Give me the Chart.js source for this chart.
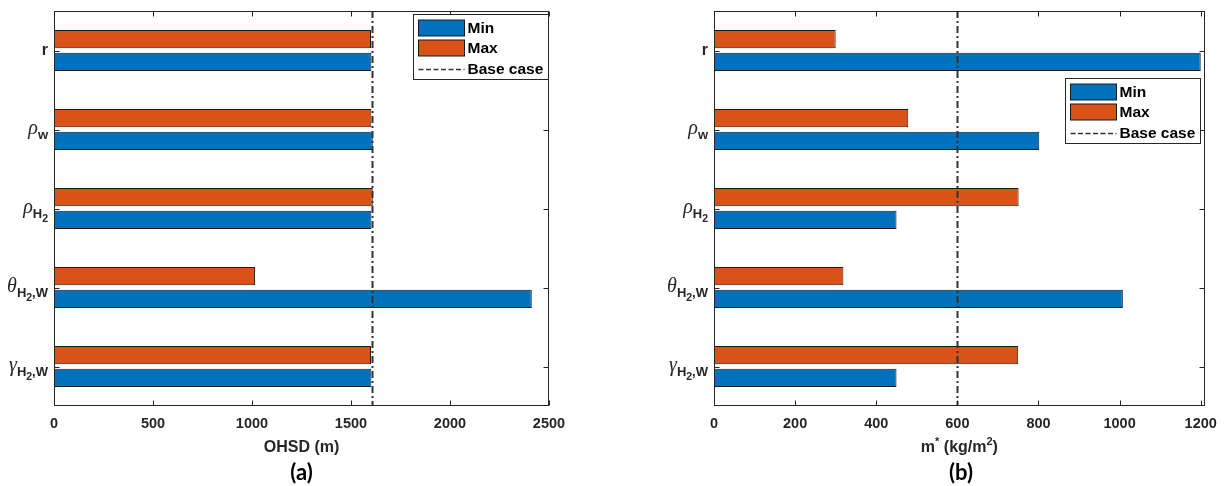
<!DOCTYPE html>
<html>
<head>
<meta charset="utf-8">
<script src="https://cdn.jsdelivr.net/npm/chart.js@4.4.1/dist/chart.umd.min.js"></script>
<style>
  html, body { margin: 0; padding: 0; background: #ffffff; }
  #wrap { position: relative; width: 1226px; height: 486px; overflow: hidden; }
  canvas { position: absolute; top: 0; }
  #panelA { left: 0; }
  #panelB { left: 613px; }
</style>
</head>
<body>
<div id="wrap">
  <canvas id="panelA" width="613" height="486"></canvas>
  <canvas id="panelB" width="613" height="486"></canvas>
</div>
<script>
// Sensitivity parameters, top to bottom (TeX-style notation)
const categories = ['r', '\\rho_w', '\\rho_{H_2}', '\\theta_{H_2,W}', '\\gamma_{H_2,W}'];
const seriesNames = ['Min', 'Max', 'Base case'];

// (a) overhead hydrogen storage depth
const ohsdMin = [1603, 1610, 1603, 2413, 1603];
const ohsdMax = [1601, 1603, 1610, 1015, 1601];
const ohsdBase = 1605;
const ohsdTicks = [0, 500, 1000, 1500, 2000, 2500];

// (b) critical mass per area
const massMin = [1200, 802, 450, 1008, 450];
const massMax = [300, 479, 751, 319, 750];
const massBase = 600;
const massTicks = [0, 200, 400, 600, 800, 1000, 1200];

const BLUE = '#0072BD';
const ORANGE = '#D95319';
const AXIS = '#262626';
const BASE_COLOR = '#333333';
const SANS = '"Liberation Sans", Arial, sans-serif';
const SERIF = '"Liberation Serif", "DejaVu Serif", serif';

const GREEK = { rho: 'ρ', theta: 'θ', gamma: 'γ' };

// Minimal TeX-like parser: greek commands, _ subscripts and ^ superscripts
function parseTex(src, st) {
  const runs = [];
  (function walk(s, depth, dy) {
    let i = 0;
    while (i < s.length) {
      const c = s[i];
      if (c === '\\') {
        let j = i + 1;
        while (j < s.length && /[a-zA-Z]/.test(s[j])) j++;
        runs.push({ text: GREEK[s.slice(i + 1, j)] || '', greek: true, depth, dy });
        i = j;
      } else if (c === '_' || c === '^') {
        let grp, next;
        if (s[i + 1] === '{') {
          let k = i + 2, lvl = 1;
          while (k < s.length && lvl) {
            if (s[k] === '{') lvl++;
            else if (s[k] === '}') lvl--;
            k++;
          }
          grp = s.slice(i + 2, k - 1);
          next = k;
        } else {
          grp = s[i + 1];
          next = i + 2;
        }
        const d = Math.min(depth, 1);
        const shift = c === '_' ? st.sub[d] : -st.sup[d];
        walk(grp, depth + 1, dy + shift);
        i = next;
      } else {
        const last = runs[runs.length - 1];
        if (last && !last.greek && last.depth === depth && last.dy === dy) last.text += c;
        else runs.push({ text: c, greek: false, depth, dy });
        i++;
      }
    }
  })(src, 0, 0);
  return runs;
}

function runFont(r, st) {
  const sz = st.sizes[Math.min(r.depth, st.sizes.length - 1)];
  if (r.greek) return `italic ${r.depth ? sz : st.greekSize}px ${SERIF}`;
  return `${st.weight} ${sz}px ${SANS}`;
}

function drawTex(ctx, src, x, y, align, st) {
  const runs = parseTex(src, st);
  let w = 0;
  runs.forEach(r => { ctx.font = runFont(r, st); r.w = ctx.measureText(r.text).width; w += r.w; });
  let cx = align === 'right' ? x - w : align === 'center' ? x - w / 2 : x;
  ctx.textAlign = 'left';
  ctx.textBaseline = 'alphabetic';
  runs.forEach(r => { ctx.font = runFont(r, st); ctx.fillText(r.text, cx, y + r.dy); cx += r.w; });
}

const labelStyle = { sizes: [16, 13, 10.5], greekSize: 20, sub: [5, 4], sup: [7, 5], weight: 'bold' };
const titleStyle = { sizes: [16, 11, 9], greekSize: 17, sub: [5, 4], sup: [7, 5], weight: 'bold' };

// Dash-dot base-case reference line, placed with the value scale
const baseLinePlugin = {
  id: 'baseLine',
  afterDatasetsDraw(chart, args, opts) {
    const { ctx, chartArea: a } = chart;
    const px = Math.round(chart.scales.x.getPixelForValue(opts.value)) + 0.5;
    ctx.save();
    ctx.strokeStyle = opts.color;
    ctx.lineWidth = opts.width;
    ctx.setLineDash(opts.dash);
    ctx.beginPath();
    ctx.moveTo(px, a.top);
    ctx.lineTo(px, a.bottom);
    ctx.stroke();
    ctx.restore();
  }
};

// Axes box, inward tick marks, category labels and axis title
const framePlugin = {
  id: 'frame',
  afterDatasetsDraw(chart, args, opts) {
    const { ctx, chartArea: a } = chart;
    const xs = chart.scales.x, ys = chart.scales.y;
    const L = Math.round(a.left) + 0.5, R = Math.round(a.right) - 0.5;
    const T = Math.round(a.top) + 0.5, B = Math.round(a.bottom) - 0.5;
    const tl = 5;
    ctx.save();
    ctx.strokeStyle = AXIS;
    ctx.lineWidth = 1;
    ctx.beginPath();
    xs.ticks.forEach(t => {
      const px = Math.round(xs.getPixelForValue(t.value)) + 0.5;
      ctx.moveTo(px, B); ctx.lineTo(px, B - tl);
      ctx.moveTo(px, T); ctx.lineTo(px, T + tl);
    });
    categories.forEach((c, i) => {
      const py = Math.round(ys.getPixelForValue(i)) + 0.5;
      ctx.moveTo(L, py); ctx.lineTo(L + tl, py);
      ctx.moveTo(R, py); ctx.lineTo(R - tl, py);
    });
    ctx.stroke();
    ctx.strokeRect(L, T, R - L, B - T);

    ctx.fillStyle = AXIS;
    categories.forEach((c, i) => {
      const py = ys.getPixelForValue(i);
      drawTex(ctx, c, a.left - 6, py + 4, 'right', labelStyle);
    });
    drawTex(ctx, opts.axisTitle, (a.left + a.right) / 2, a.bottom + 46, 'center', titleStyle);
    ctx.restore();
  }
};

// Boxed legend placed inside the axes
const boxLegendPlugin = {
  id: 'boxLegend',
  afterDraw(chart, args, opts) {
    const { ctx, chartArea: a } = chart;
    const w = 135, h = 65;
    const x0 = Math.round(a.right - opts.right - w) + 0.5;
    const y0 = Math.round(a.top + opts.top) + 0.5;
    ctx.save();
    ctx.fillStyle = '#ffffff';
    ctx.fillRect(x0, y0, w, h);
    ctx.strokeStyle = AXIS;
    ctx.lineWidth = 1;
    ctx.strokeRect(x0, y0, w, h);
    seriesNames.forEach((name, k) => {
      const ds = chart.data.datasets.find(d => d.label === name);
      const cy = y0 + 13 + k * 20.5;
      if (!ds) {
        ctx.strokeStyle = BASE_COLOR;
        ctx.lineWidth = 1.5;
        ctx.setLineDash([5, 2.5]);
        ctx.beginPath();
        ctx.moveTo(x0 + 5, Math.round(cy) + 0.5);
        ctx.lineTo(x0 + 51, Math.round(cy) + 0.5);
        ctx.stroke();
        ctx.setLineDash([]);
      } else {
        ctx.fillStyle = ds.backgroundColor;
        ctx.fillRect(x0 + 5, Math.round(cy - 8), 46, 16);
        ctx.strokeStyle = ds.borderColor;
        ctx.lineWidth = 1;
        ctx.strokeRect(x0 + 5, Math.round(cy - 8), 46, 16);
      }
      ctx.fillStyle = '#000000';
      ctx.font = `bold 15.5px ${SANS}`;
      ctx.textAlign = 'left';
      ctx.textBaseline = 'middle';
      ctx.fillText(name, x0 + 54, cy + 1);
    });
    ctx.restore();
  }
};

function makePanel(canvas, p) {
  const barCommon = {
    borderColor: '#1a1a1a',
    borderWidth: 1,
    borderSkipped: false,
    categoryPercentage: 0.57,
    barPercentage: 0.81
  };
  return new Chart(canvas, {
    type: 'bar',
    data: {
      labels: categories,
      datasets: [
        Object.assign({ label: 'Max', data: p.max, backgroundColor: ORANGE }, barCommon),
        Object.assign({ label: 'Min', data: p.min, backgroundColor: BLUE }, barCommon)
      ]
    },
    options: {
      indexAxis: 'y',
      responsive: false,
      animation: false,
      devicePixelRatio: 1,
      layout: { padding: { left: p.left, right: p.right, top: 11, bottom: 0 } },
      scales: {
        x: {
          type: 'linear',
          min: 0,
          max: p.xMax,
          afterBuildTicks: s => { s.ticks = p.ticks.map(v => ({ value: v })); },
          afterFit: s => { s.height = 53.6; },
          grid: { display: false, drawTicks: false },
          border: { display: false },
          ticks: {
            autoSkip: false,
            maxRotation: 0,
            padding: 9,
            color: AXIS,
            callback: v => String(v),
            font: { family: SANS, size: 14.5, weight: 'bold' }
          }
        },
        y: { type: 'category', display: false, offset: true }
      },
      plugins: {
        legend: { display: false },
        tooltip: { enabled: false },
        title: {
          display: true,
          text: p.caption,
          position: 'bottom',
          color: '#000000',
          padding: 0,
          font: { family: 'Lato, "Open Sans", sans-serif', size: 22, weight: 'bold' }
        },
        baseLine: { value: p.base, color: BASE_COLOR, width: 2, dash: [7, 3, 2, 3] },
        frame: { axisTitle: p.axisTitle },
        boxLegend: p.legend
      }
    },
    plugins: [baseLinePlugin, framePlugin, boxLegendPlugin]
  });
}

makePanel(document.getElementById('panelA'), {
  min: ohsdMin, max: ohsdMax, base: ohsdBase, ticks: ohsdTicks, xMax: 2500,
  left: 54, right: 64, caption: '(a)', axisTitle: 'OHSD (m)',
  legend: { right: 1, top: 3 }
});

makePanel(document.getElementById('panelB'), {
  min: massMin, max: massMax, base: massBase, ticks: massTicks, xMax: 1210,
  left: 101, right: 18, caption: '(b)', axisTitle: 'm^* (kg/m^2)',
  legend: { right: 5, top: 67 }
});
</script>
</body>
</html>
